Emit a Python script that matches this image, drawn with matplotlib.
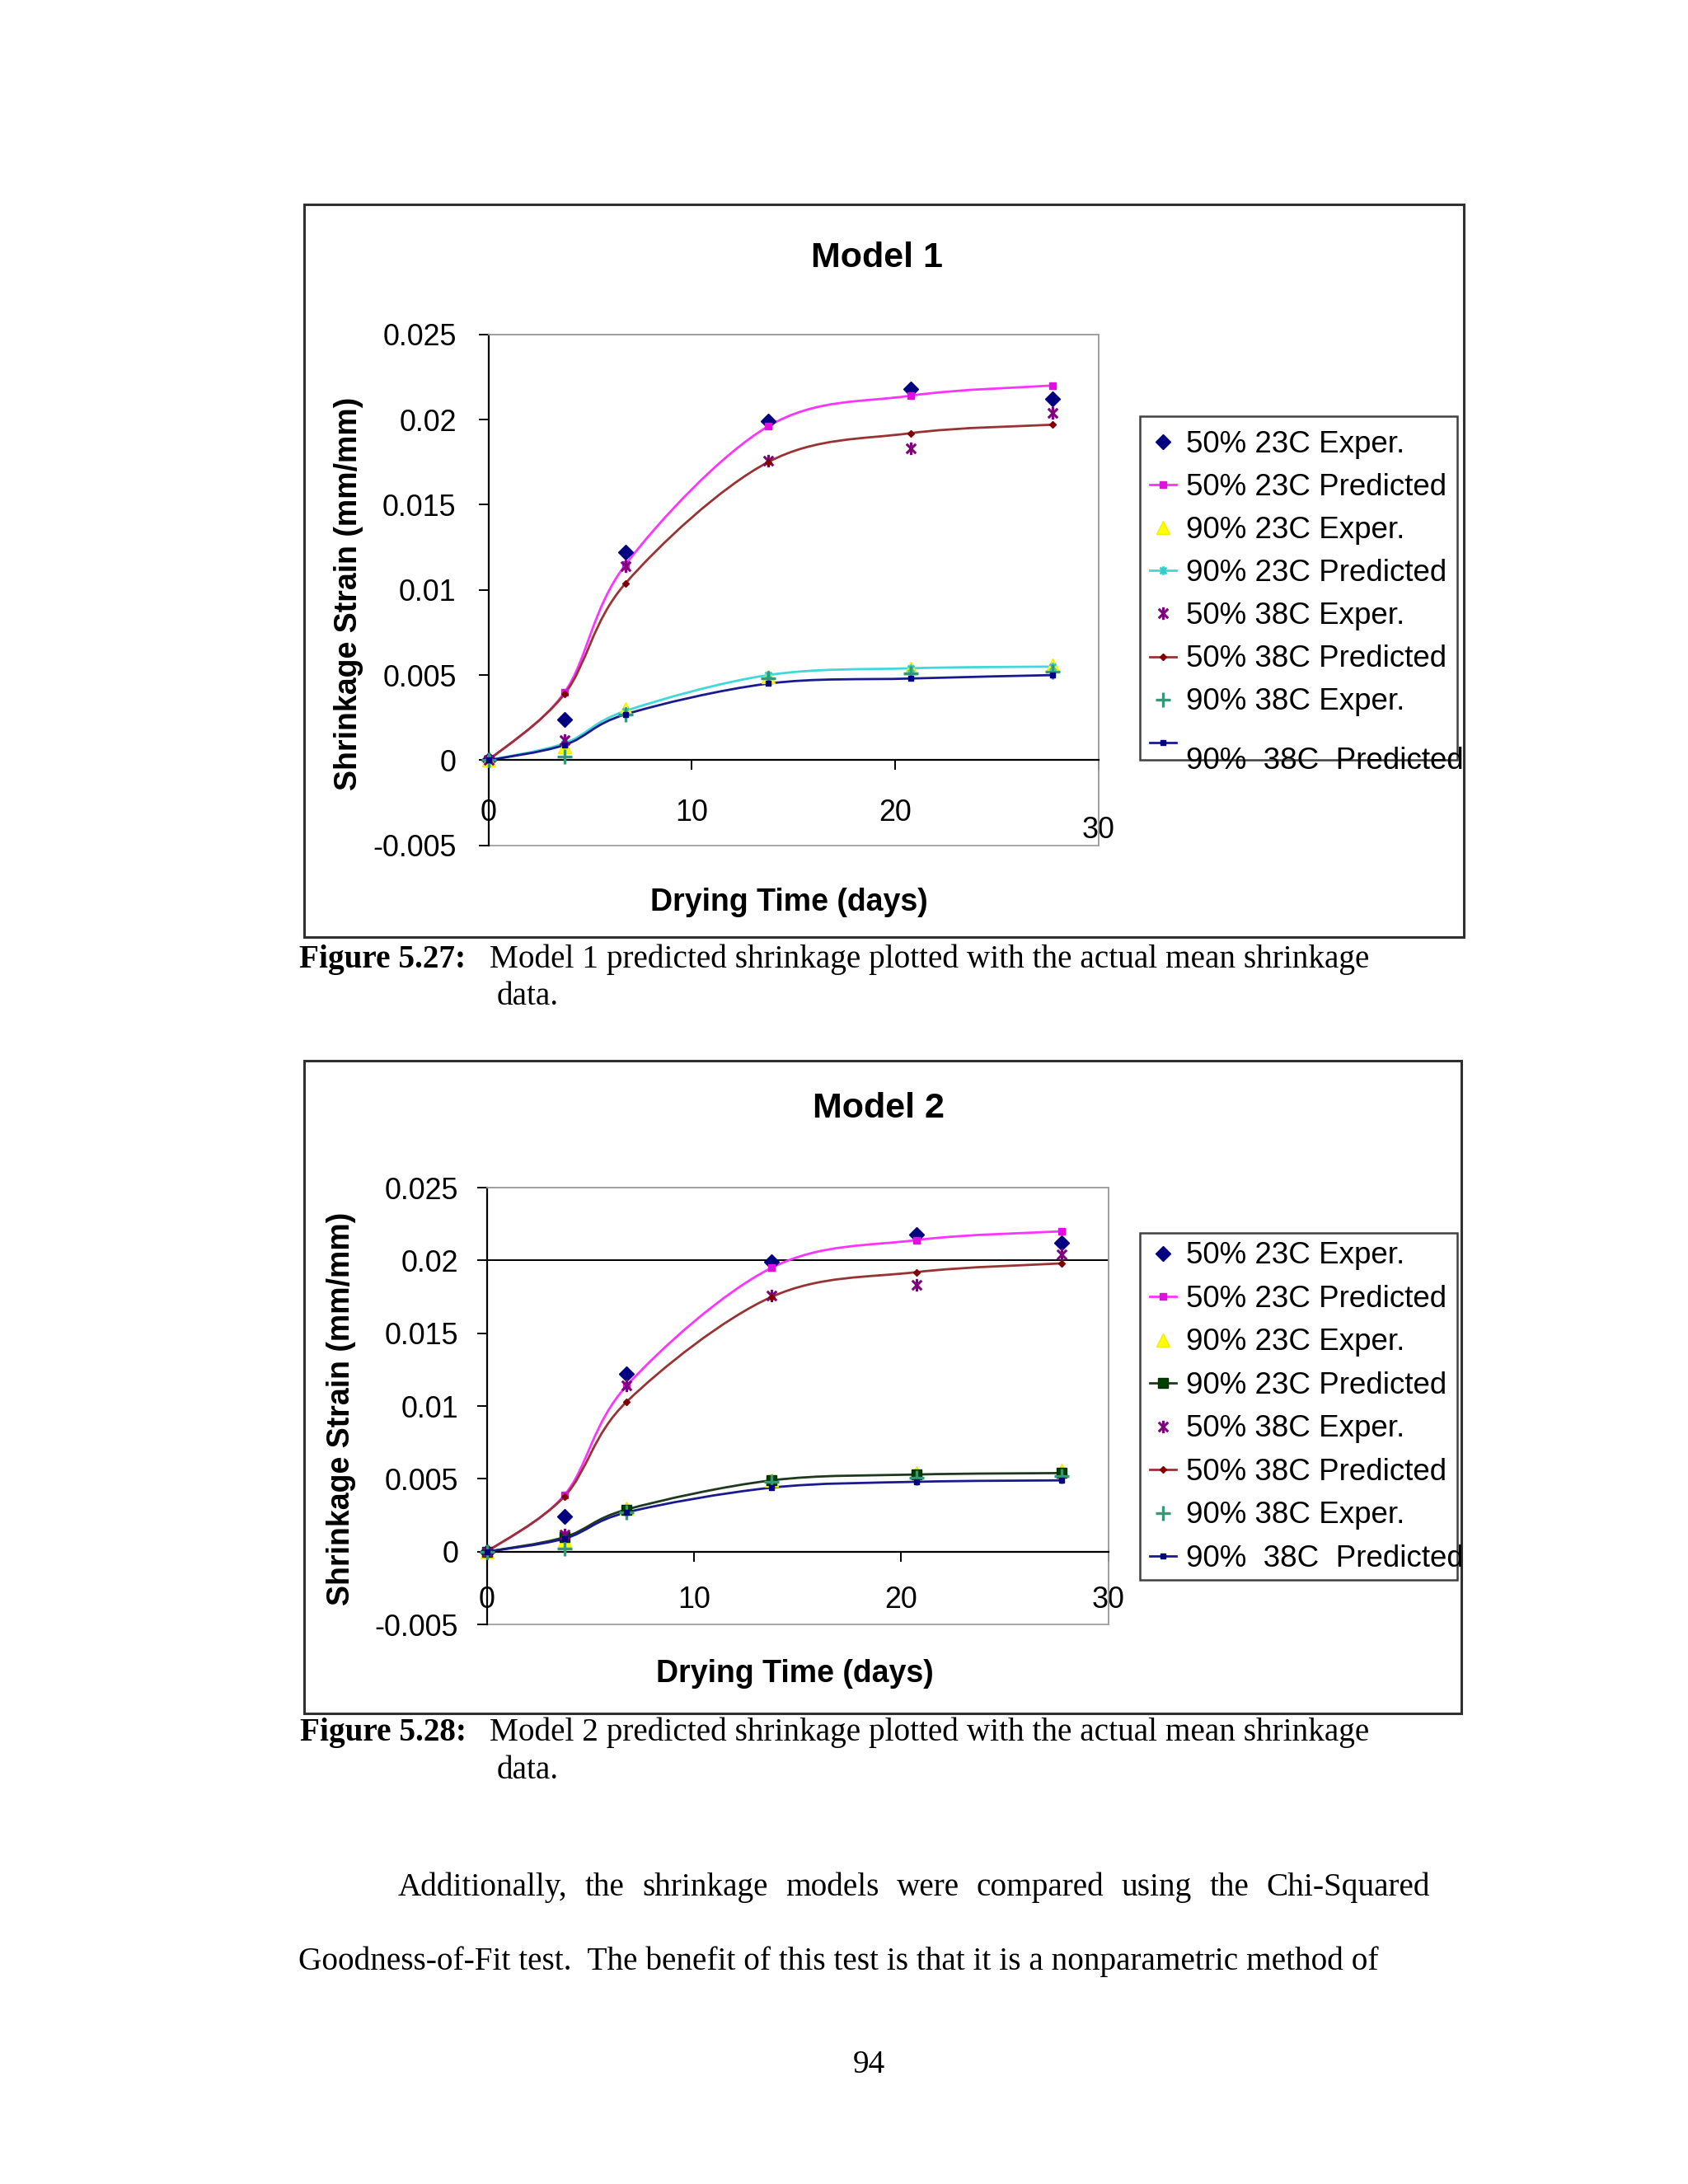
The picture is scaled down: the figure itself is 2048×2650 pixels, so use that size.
import numpy as np
import matplotlib
matplotlib.use("Agg")
import matplotlib.pyplot as plt
from matplotlib.path import Path
from matplotlib.patches import PathPatch, Rectangle
from matplotlib.lines import Line2D
from matplotlib.transforms import Affine2D, Bbox, TransformedBbox

W, H = 2048, 2650

# ---------------- data ----------------
DAYS = [0, 3.75, 6.75, 13.75, 20.75, 27.75]

EXP_50_23 = [0, 0.0024, 0.0122, 0.0199, 0.0218, 0.0212]
EXP_90_23 = [0, 0.0008, 0.0030, 0.0049, 0.0054, 0.0056]
EXP_50_38 = [0, 0.0012, 0.0114, 0.0176, 0.0183, 0.0204]
EXP_90_38 = [0, 0.0002, 0.0027, 0.0048, 0.0051, 0.0052]

M1_PRED_50_23 = [0, 0.0040, 0.0115, 0.0196, 0.0214, 0.0220]
M1_PRED_90_23 = [0, 0.0010, 0.0029, 0.0050, 0.0054, 0.0055]
M1_PRED_50_38 = [0, 0.0039, 0.0104, 0.0175, 0.0192, 0.0197]
M1_PRED_90_38 = [0, 0.0009, 0.0027, 0.0045, 0.0048, 0.0050]

M2_PRED_50_23 = [0, 0.0039, 0.0114, 0.0195, 0.0214, 0.0220]
M2_PRED_90_23 = [0, 0.0010, 0.0029, 0.0049, 0.0053, 0.0054]
M2_PRED_50_38 = [0, 0.0038, 0.0103, 0.0175, 0.0192, 0.0198]
M2_PRED_90_38 = [0, 0.0009, 0.0027, 0.0044, 0.0048, 0.0049]

LABELS = ["50% 23C Exper.", "50% 23C Predicted", "90% 23C Exper.", "90% 23C Predicted",
          "50% 38C Exper.", "50% 38C Predicted", "90% 38C Exper.", "90%  38C  Predicted"]
Y_TICKS = [-0.005, 0, 0.005, 0.01, 0.015, 0.02, 0.025]
Y_TICK_LABELS = ["-0.005", "0", "0.005", "0.01", "0.015", "0.02", "0.025"]
X_TICKS = [0, 10, 20, 30]
M2_GRID_Y = 0.02

SANS = "Liberation Sans"
SERIF = "Liberation Serif"

# excel "star" marker: X with a vertical bar
STAR = Path([(0, -1), (0, 1), (-0.75, -0.75), (0.75, 0.75), (-0.75, 0.75), (0.75, -0.75)],
            [Path.MOVETO, Path.LINETO] * 3)

# marker style, line colour (None = markers only)
ST_E50_23 = (dict(marker="D", ms=9.5, mfc="#000080", mec="#000080", mew=1), None)
ST_P50_23 = (dict(marker="s", ms=6, mfc="#e010e0", mec="#e010e0", mew=1), "#ff33ff")
ST_E90_23 = (dict(marker="^", ms=12, mfc="#ffff00", mec="#eeee00", mew=1), None)
ST_P90_23_M1 = (dict(marker=STAR, ms=7.5, mfc="none", mec="#33cccc", mew=2), "#40d8d8")
ST_P90_23_M2 = (dict(marker="s", ms=8, mfc="#004000", mec="#003000", mew=1), "#1e3a1e")
ST_E50_38 = (dict(marker=STAR, ms=11, mfc="none", mec="#800080", mew=2.2), None)
ST_P50_38 = (dict(marker="D", ms=4.5, mfc="#800000", mec="#800000", mew=1), "#993333")
ST_E90_38 = (dict(marker="+", ms=13, mec="#339977", mew=2.4), None)
ST_P90_38 = (dict(marker="s", ms=4, mfc="#000080", mec="#000080", mew=1), "#1a1a90")


def smooth_path(xs, ys):
    # excel-style smoothed line through the points (cubic bezier segments)
    pts = np.column_stack([xs, ys]).astype(float)
    n = len(pts)
    verts, codes = [pts[0]], [Path.MOVETO]
    for i in range(n - 1):
        p0, p1, p2, p3 = pts[max(i - 1, 0)], pts[i], pts[i + 1], pts[min(i + 2, n - 1)]
        verts += [p1 + (p2 - p0) / 6.0, p2 - (p3 - p1) / 6.0, p2]
        codes += [Path.CURVE4] * 3
    return Path(verts, codes)


fig = plt.figure(figsize=(W / 100, H / 100), dpi=100)
fig.patch.set_facecolor("white")
page = Affine2D().scale(1.0 / W, -1.0 / H).translate(0, 1) + fig.transFigure


def px_rect(l, t, r, b):
    return [l / W, 1 - b / H, (r - l) / W, (b - t) / H]


def draw_model(g, series):
    fig.add_artist(Rectangle((g["frame"][0], g["frame"][3]), g["frame"][2] - g["frame"][0],
                             g["frame"][1] - g["frame"][3], transform=page, fill=False,
                             ec="#303030", lw=2.2))
    l, t, r, b = g["axes"]
    ax = fig.add_axes(px_rect(l, t, r, b))
    ax.set_xlim(0, 30)
    ax.set_ylim(-0.005, 0.025)
    ax.patch.set_edgecolor("#a0a0a0")
    ax.patch.set_linewidth(1.3)
    for s in ("top", "right"):
        ax.spines[s].set_color("#a0a0a0")
        ax.spines[s].set_linewidth(1.3)
    ax.spines["left"].set_color("black")
    ax.spines["left"].set_linewidth(1.6)
    ax.spines["bottom"].set_position(("data", 0))
    ax.spines["bottom"].set_color("black")
    ax.spines["bottom"].set_linewidth(1.6)

    ax.set_yticks(Y_TICKS, Y_TICK_LABELS)
    ax.set_xticks(X_TICKS, [str(v) for v in X_TICKS])
    ax.tick_params(axis="both", direction="out", length=8.6, width=1.4, labelsize=25.8,
                   color="black")
    for lab in ax.get_xticklabels() + ax.get_yticklabels():
        lab.set_fontfamily(SANS)
    ax.tick_params(axis="x", pad=g["xpad"])
    ax.tick_params(axis="y", pad=g["ypad"])
    if g.get("x_last_pad"):
        ax.xaxis.get_major_ticks()[-1].set_pad(g["x_last_pad"])

    if g.get("grid_y") is not None:
        ax.axhline(g["grid_y"], color="black", lw=1.4, zorder=1.5)

    for ys, (mk, lc) in series:
        if lc is not None:
            ax.add_patch(PathPatch(smooth_path(DAYS, ys), fill=False, ec=lc, lw=2.0, zorder=2))
        ax.plot(DAYS, ys, ls="none", zorder=3, clip_on=False, **mk)

    ax.set_ylabel("Shrinkage Strain (mm/mm)", fontsize=27, fontweight="bold",
                  fontfamily=SANS, va="center")
    ax.yaxis.set_label_coords((g["ylabel"][0] - l) / (r - l), (b - g["ylabel"][1]) / (b - t))
    ax.set_xlabel("Drying Time (days)", fontsize=27, fontweight="bold", fontfamily=SANS,
                  va="center")
    ax.xaxis.set_label_coords((g["xlabel"][0] - l) / (r - l), (b - g["xlabel"][1]) / (b - t))

    fig.text(g["title"][0], g["title"][1], g["title_text"], transform=page, ha="center",
             va="baseline", fontsize=31, fontweight="bold", fontfamily=SANS)

    # legend
    ll, lt, lr, lb = g["legend"]
    fig.add_artist(Rectangle((ll, lb), lr - ll, lt - lb, transform=page, fill=False,
                             ec="#404040", lw=1.8))
    clip = TransformedBbox(Bbox.from_extents(0, 0, g["frame"][2] / W, 1), fig.transFigure)
    for i, (label, (_, (mk, lc))) in enumerate(zip(LABELS, series)):
        yk = lt + g["rows"][i]
        if lc is not None:
            fig.add_artist(Line2D([ll + 12, ll + 44], [yk, yk], color=lc, lw=2.0,
                                  transform=page))
        fig.add_artist(Line2D([ll + 28], [yk], ls="none", transform=page, **mk))
        yt = lt + g["text_rows"][i] + 12.7
        txt = fig.text(ll + 56, yt, label, transform=page, ha="left", va="baseline",
                       fontsize=26.5, fontfamily=SANS)
        txt.set_clip_on(True)
        txt.set_clip_box(clip)
    return ax


rows1 = [31 + 52.1 * i for i in range(7)] + [396]
g1 = dict(frame=(369, 248, 1776, 1137), axes=(592.6, 405.75, 1332.7, 1025.85),
          title=(1064, 323.5), title_text="Model 1", ylabel=(423, 720), xlabel=(957, 1095),
          xpad=24.8, ypad=19.4, x_last_pad=40.3, grid_y=None,
          legend=(1383, 505, 1768, 922), rows=rows1, text_rows=rows1[:7] + [415])
series1 = [(EXP_50_23, ST_E50_23), (M1_PRED_50_23, ST_P50_23), (EXP_90_23, ST_E90_23),
           (M1_PRED_90_23, ST_P90_23_M1), (EXP_50_38, ST_E50_38), (M1_PRED_50_38, ST_P50_38),
           (EXP_90_38, ST_E90_38), (M1_PRED_90_38, ST_P90_38)]
draw_model(g1, series1)

rows2 = [24.7 + 52.5 * i for i in range(8)]
g2 = dict(frame=(369, 1287, 1773, 2079), axes=(590.7, 1441.05, 1344.6, 1971.15),
          title=(1066, 1355.5), title_text="Model 2", ylabel=(414, 1709), xlabel=(964, 2031),
          xpad=21.2, ypad=16.3, x_last_pad=None, grid_y=M2_GRID_Y,
          legend=(1383, 1496, 1768, 1917), rows=rows2, text_rows=rows2)
series2 = [(EXP_50_23, ST_E50_23), (M2_PRED_50_23, ST_P50_23), (EXP_90_23, ST_E90_23),
           (M2_PRED_90_23, ST_P90_23_M2), (EXP_50_38, ST_E50_38), (M2_PRED_50_38, ST_P50_38),
           (EXP_90_38, ST_E90_38), (M2_PRED_90_38, ST_P90_38)]
draw_model(g2, series2)

# ---------------- page text ----------------
BODY = 28.3


def ptext(x, y, s, **kw):
    kw.setdefault("fontsize", BODY)
    kw.setdefault("fontfamily", SERIF)
    return fig.text(x, y, s, transform=page, ha=kw.pop("ha", "left"), va="baseline", **kw)


ptext(363, 1174, "Figure 5.27:", fontweight="bold")
ptext(594, 1174, "Model 1 predicted shrinkage plotted with the actual mean shrinkage")
ptext(603, 1219, "data.")
ptext(364, 2112, "Figure 5.28:", fontweight="bold")
ptext(594, 2112, "Model 2 predicted shrinkage plotted with the actual mean shrinkage")
ptext(603, 2158, "data.")

# justified first paragraph line
renderer = fig.canvas.get_renderer()
words = "Additionally, the shrinkage models were compared using the Chi-Squared".split()
wtexts = [ptext(0, 2300, w) for w in words]
widths = [t.get_window_extent(renderer).width for t in wtexts]
gap = (1735 - 483 - sum(widths)) / (len(words) - 1)
x = 483
for t, w in zip(wtexts, widths):
    t.set_x(x)
    x += w + gap
ptext(362, 2390, "Goodness-of-Fit test.  The benefit of this test is that it is a nonparametric method of")
ptext(1054, 2515, "94", ha="center")

fig.savefig("out.png", dpi=100)
